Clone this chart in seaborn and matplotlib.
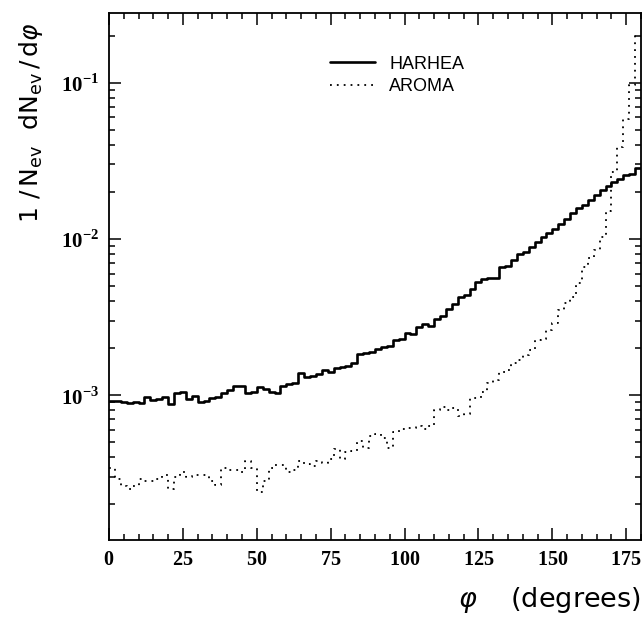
import numpy as np
import pandas as pd
import matplotlib
matplotlib.use("Agg")
import matplotlib.pyplot as plt
import seaborn as sns
from matplotlib.lines import Line2D
from matplotlib.ticker import MultipleLocator, FixedLocator, LogLocator, FuncFormatter, NullFormatter

# ---------------- data ----------------
bin_width = 2.0
phi_range = (0.0, 180.0)
phi_edges = np.arange(phi_range[0], phi_range[1] + bin_width, bin_width)
phi_centers = 0.5 * (phi_edges[:-1] + phi_edges[1:])

# HARHEA, 1/N dN/dphi (units of 1e-3)
harhea_e3 = [
    0.91, 0.91, 0.90, 0.89, 0.90, 0.89, 0.97, 0.93, 0.95, 0.97,
    0.88, 1.03, 1.05, 0.95, 0.99, 0.90, 0.91, 0.96, 0.97, 1.03,
    1.08, 1.14, 1.14, 1.03, 1.04, 1.12, 1.10, 1.04, 1.03, 1.15,
    1.18, 1.19, 1.38, 1.31, 1.33, 1.36, 1.45, 1.40, 1.50, 1.52,
    1.53, 1.60, 1.82, 1.86, 1.90, 1.98, 2.02, 2.05, 2.25, 2.30,
    2.50, 2.48, 2.72, 2.85, 2.75, 3.05, 3.20, 3.55, 3.85, 4.25,
    4.40, 4.80, 5.30, 5.55, 5.60, 5.65, 6.60, 6.75, 7.30, 8.00,
    8.20, 8.90, 9.60, 10.3, 10.9, 11.6, 12.5, 13.5, 14.6, 15.8,
    16.6, 17.8, 19.2, 20.5, 21.7, 23.0, 24.2, 25.5, 26.0, 28.5,
]
# AROMA, 1/N dN/dphi (units of 1e-4)
aroma_e4 = [
    3.4, 2.9, 2.6, 2.5, 2.6, 2.9, 2.8, 2.8, 2.9, 3.1,
    2.5, 3.0, 3.2, 3.0, 3.1, 3.1, 3.1, 2.8, 2.65, 3.4,
    3.3, 3.3, 3.2, 3.8, 3.4, 2.4, 2.8, 3.4, 3.55, 3.55,
    3.2, 3.3, 3.8, 3.6, 3.5, 3.8, 3.7, 3.9, 4.5, 3.9,
    4.3, 4.4, 5.1, 4.6, 5.5, 5.6, 5.3, 4.6, 5.8, 6.1,
    6.2, 6.2, 6.3, 6.1, 6.3, 8.0, 8.4, 8.0, 8.3, 7.4,
    7.6, 9.6, 9.6, 10.5, 11.9, 12.5, 14.0, 14.5, 16.0, 16.8,
    18.0, 19.4, 22.5, 23.0, 26.0, 29.0, 35.0, 39.0, 42.5, 52.0,
    66.0, 75.0, 85.0, 103.0, 150.0, 270.0, 390.0, 590.0, 970.0, 2000.0,
]
harhea = np.array(harhea_e3) * 1e-3
aroma = np.array(aroma_e4) * 1e-4

df_h = pd.DataFrame({"phi": phi_centers, "value": harhea})
df_a = pd.DataFrame({"phi": phi_centers, "value": aroma})

x_ticks = [0, 25, 50, 75, 100, 125, 150, 175]

# ---------------- style ----------------
sns.set_theme(style="ticks")
plt.rcParams.update({
    "font.family": ["Liberation Sans", "DejaVu Sans"],
    "mathtext.fontset": "custom",
    "mathtext.rm": "DejaVu Sans",
    "mathtext.it": "DejaVu Sans:italic",
    "mathtext.bf": "Liberation Serif:bold",
    "mathtext.sf": "DejaVu Sans",
    "axes.linewidth": 1.3,
    "axes.edgecolor": "black",
    "text.color": "black",
    "axes.labelcolor": "black",
    "xtick.color": "black",
    "ytick.color": "black",
    "xtick.labelcolor": "black",
    "ytick.labelcolor": "black",
})

fig = plt.figure(figsize=(6.42, 6.18), dpi=100)
ax = fig.add_axes([109 / 642, 1 - 540 / 618, 532 / 642, 527 / 618])

dotted = (0, (1.0, 2.8))
sns.histplot(data=df_h, x="phi", weights="value", binwidth=bin_width, binrange=phi_range,
             element="step", fill=False, color="black", linewidth=1.9, ax=ax)
sns.histplot(data=df_a, x="phi", weights="value", binwidth=bin_width, binrange=phi_range,
             element="step", fill=False, color="black", linewidth=1.3,
             linestyle=dotted, ax=ax)

ax.set_yscale("log")
ax.set_xlim(0, 180)
ax.set_ylim(1.18e-4, 0.28)

ax.xaxis.set_major_locator(FixedLocator(x_ticks))
ax.xaxis.set_minor_locator(MultipleLocator(5))
ax.xaxis.set_major_formatter(FuncFormatter(lambda v, p: r"$\mathbf{%d}$" % int(round(v))))
ax.yaxis.set_major_locator(LogLocator(base=10, numticks=10))
ax.yaxis.set_minor_locator(LogLocator(base=10, subs=np.arange(2, 10), numticks=20))
ax.yaxis.set_major_formatter(FuncFormatter(
    lambda v, p: r"$\mathbf{10}^{\mathbf{%d}}$" % int(round(np.log10(v)))))
ax.yaxis.set_minor_formatter(NullFormatter())

ax.tick_params(which="both", direction="in", top=True, right=True, color="black",
               width=1.1)
ax.tick_params(which="major", length=8.5)
ax.tick_params(which="minor", length=4.5)
ax.tick_params(axis="x", which="major", pad=7, labelsize=14.5, labelcolor="black")
ax.tick_params(axis="y", which="major", pad=7, labelsize=15, labelcolor="black")

for s in ax.spines.values():
    s.set_visible(True)
    s.set_color("black")

ax.set_ylabel(r"$1\ /\,\mathrm{N_{ev}}\ \ \mathrm{dN_{ev}}\,/\,\mathrm{d}\varphi$",
              fontsize=18, loc="top", color="black")
ax.yaxis.set_label_coords(-0.12, 0.982)
ax.set_xlabel(r"$\varphi$    (degrees)", fontsize=19.5, loc="right",
              fontfamily="DejaVu Sans", color="black")
ax.xaxis.set_label_coords(1.0, -0.086)

handles = [Line2D([], [], color="black", lw=1.9, label="HARHEA"),
           Line2D([], [], color="black", lw=1.3, ls=dotted, label="AROMA")]
leg = ax.legend(handles=handles, loc="upper left", bbox_to_anchor=(0.415, 0.919),
                frameon=False, borderpad=0, borderaxespad=0, handlelength=2.5,
                handletextpad=0.8, labelspacing=0.3, fontsize=13)
for t in leg.get_texts():
    t.set_color("black")

fig.savefig("out.png", dpi=100, facecolor="white")
